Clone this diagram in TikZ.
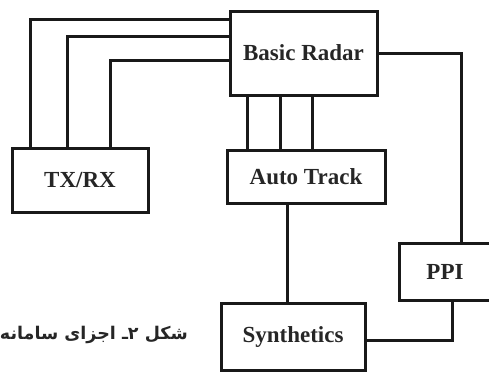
\documentclass[tikz,border=0pt]{standalone}
\usepackage{fontspec}
\setmainfont{Liberation Serif}
\newfontfamily\fafont[Script=Arabic]{DejaVu Sans}
\TeXXeTstate=1
\begin{document}
\begin{tikzpicture}[x=1pt,y=-1pt,
  blk/.style={draw=black!90, line width=3pt, rectangle, inner sep=0pt,
    font=\fontsize{23}{26}\selectfont\bfseries, text=black!85},
  wire/.style={draw=black!90, line width=3pt}]
\useasboundingbox (0,0) rectangle (489,372);
\node[blk, minimum width=147pt, minimum height=84pt] (radar) at (303.5,53) {Basic Radar};
\node[blk, minimum width=158pt, minimum height=53pt] (track) at (306,176.5) {Auto Track};
\node[blk, minimum width=136pt, minimum height=64pt] (txrx) at (80,180) {TX/RX};
\node[blk, minimum width=144pt, minimum height=67pt] (synth) at (293,336.5) {Synthetics};
\node[blk, minimum width=92pt, minimum height=57pt] (ppi) at (445,271.5) {PPI};
\node[anchor=east, inner sep=0pt, font=\fafont\bfseries\fontsize{17.5}{20}\selectfont, text=black!85] (cap) at (188,335) {\beginR شکل ۲ـ اجزای سامانه\endR};
% TX/RX to Basic Radar
\coordinate (t1) at ([xshift=20pt]txrx.north west);
\coordinate (t2) at ([xshift=57pt]txrx.north west);
\coordinate (t3) at ([xshift=100pt]txrx.north west);
\coordinate (b1) at ([yshift=-10pt]radar.north west);
\coordinate (b2) at ([yshift=-27pt]radar.north west);
\coordinate (b3) at ([yshift=-51pt]radar.north west);
\draw[wire] (t1) |- (b1);
\draw[wire] (t2) |- (b2);
\draw[wire] (t3) |- (b3);
% Basic Radar to Auto Track
\coordinate (r1) at ([xshift=19pt]radar.south west);
\coordinate (r2) at ([xshift=52pt]radar.south west);
\coordinate (r3) at ([xshift=84pt]radar.south west);
\draw[wire] (r1) -- (r1 |- track.north);
\draw[wire] (r2) -- (r2 |- track.north);
\draw[wire] (r3) -- (r3 |- track.north);
% Basic Radar to PPI
\draw[wire] (radar.east) -| ([xshift=64pt]ppi.north west);
% Auto Track to Synthetics
\coordinate (s1) at ([xshift=68pt]synth.north west);
\draw[wire] (s1 |- track.south) -- (s1);
% PPI to Synthetics
\draw[wire] ([xshift=55pt]ppi.south west) |- ([yshift=-4pt]synth.east);
\end{tikzpicture}
\end{document}
